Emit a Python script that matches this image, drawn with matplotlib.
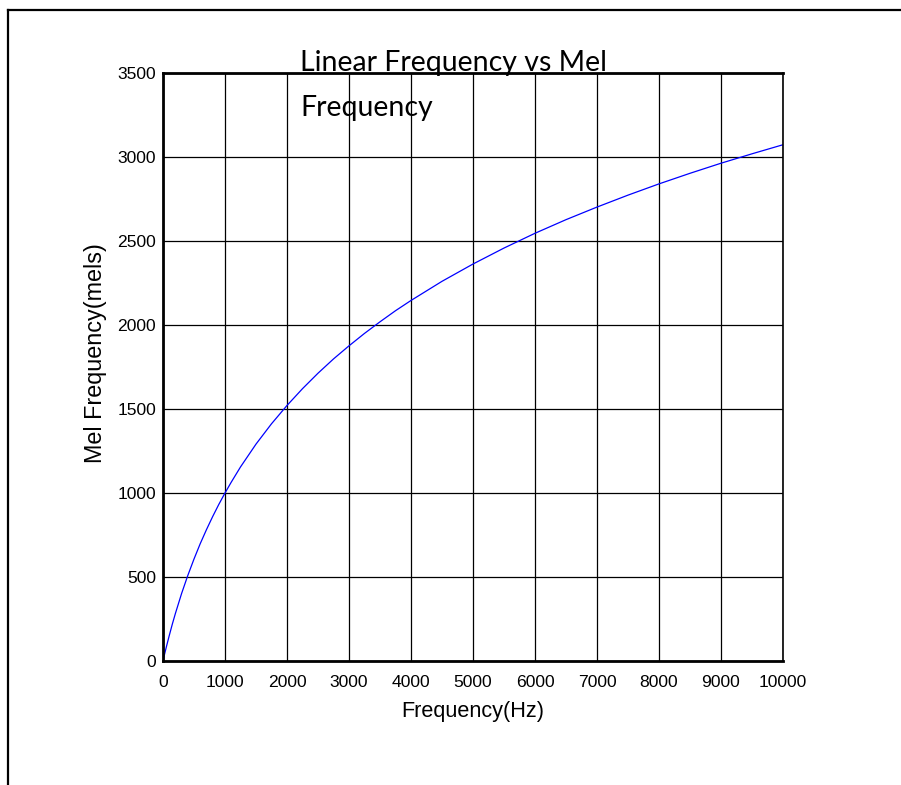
import matplotlib
matplotlib.use("Agg")
import matplotlib.pyplot as plt
from matplotlib.lines import Line2D

freq_hz = [0, 25, 50, 100, 150, 200, 300, 400, 500, 600, 700, 800, 900, 1000, 1100,
           1250, 1500, 1750, 2000, 2250, 2500, 2750, 3000, 3250, 3500, 3750, 4000,
           4500, 5000, 5500, 6000, 6500, 7000, 7500, 8000, 8500, 9000, 9500, 10000]
mel = [0, 40, 78, 150, 219, 283, 402, 509, 607, 698, 781, 859, 932, 1000, 1064,
       1155, 1291, 1412, 1521, 1621, 1713, 1798, 1876, 1950, 2019, 2085, 2146,
       2260, 2363, 2458, 2546, 2627, 2702, 2773, 2840, 2903, 2963, 3019, 3073]
x_ticks = [0, 1000, 2000, 3000, 4000, 5000, 6000, 7000, 8000, 9000, 10000]
y_ticks = [0, 500, 1000, 1500, 2000, 2500, 3000, 3500]

fig = plt.figure(figsize=(9.01, 7.85), dpi=100)
W, H = 901, 785
ax = fig.add_axes([163 / W, 1 - 661 / H, (783 - 163) / W, (661 - 73) / H])

ax.plot(freq_hz, mel, color="#0000ff", lw=0.9)
ax.set_xlim(0, 10000)
ax.set_ylim(0, 3500)
ax.set_xticks(x_ticks)
ax.set_yticks(y_ticks)
ax.set_xticklabels([str(t) for t in x_ticks], family="Liberation Sans", fontsize=12.6)
ax.set_yticklabels([str(t) for t in y_ticks], family="Liberation Sans", fontsize=12.6)
ax.tick_params(axis="x", length=0, pad=10)
ax.tick_params(axis="y", length=0, pad=5)
ax.grid(True, color="black", lw=0.9)
for s in ["left", "top", "bottom"]:
    ax.spines[s].set_linewidth(2.0)
ax.spines["right"].set_linewidth(1.2)

ax.set_xlabel("Frequency(Hz)", family="Liberation Sans", fontsize=15.6)
ax.xaxis.set_label_coords(0.5, -(701 - 661) / 588)
ax.xaxis.label.set_va("top")
ax.set_ylabel("Mel Frequency(mels)", family="Liberation Sans", fontsize=16.8)
ax.yaxis.set_label_coords(-(163 - 107) / 620, (661 - 353) / 588)

fig.text(300 / W, 1 - 71 / H, "Linear Frequency vs Mel", family="Lato", fontsize=20.5,
         ha="left", va="baseline")
fig.text(300 / W, 1 - 116 / H, "Frequency", family="Lato", fontsize=20.5,
         ha="left", va="baseline")

fig.add_artist(Line2D([8 / W, 1.0], [1 - 10 / H, 1 - 10 / H], color="black", lw=1.6,
                      transform=fig.transFigure))
fig.add_artist(Line2D([8 / W, 8 / W], [1 - 10 / H, 0], color="black", lw=1.6,
                      transform=fig.transFigure))

fig.savefig("out.png", dpi=100)
